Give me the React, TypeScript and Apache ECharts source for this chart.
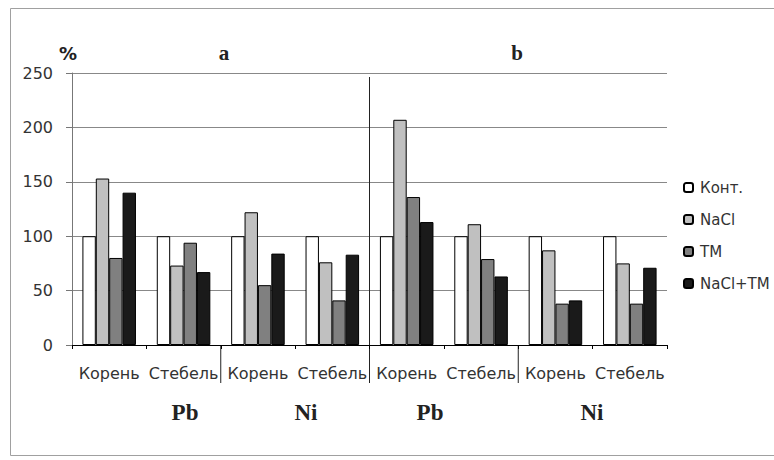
import React, { useEffect, useRef } from "react";
import * as echarts from "echarts";

const categories = ["Корень", "Стебель", "Корень", "Стебель", "Корень", "Стебель", "Корень", "Стебель"];
const seriesNames = ["Конт.", "NaCl", "ТМ", "NaCl+TM"];
const kont = [100, 100, 100, 100, 100, 100, 100, 100];
const nacl = [153, 73, 122, 76, 207, 111, 87, 75];
const tm = [80, 94, 55, 41, 136, 79, 38, 38];
const naclTm = [140, 67, 84, 83, 113, 63, 41, 71];
const yMin = 0;
const yMax = 250;
const yStep = 50;
const panelTitles = ["a", "b"];
const metalLabels = ["Pb", "Ni", "Pb", "Ni"];

const colors = ["#ffffff", "#c0c0c0", "#808080", "#1a1a1a"];
const FONT = "DejaVu Sans";
const SERIF = "Liberation Serif";
const TEXT = "#333333";

export default function App() {
  const ref = useRef<HTMLDivElement>(null);
  useEffect(() => {
    if (!ref.current) return;
    const chart = echarts.init(ref.current, null, { renderer: "svg" });
    const values = [kont, nacl, tm, naclTm];
    chart.setOption({
      animation: false,
      backgroundColor: "#ffffff",
      grid: { left: 72, right: 107, top: 73, bottom: 115, containLabel: false },
      legend: {
        orient: "vertical",
        left: 678,
        top: 175,
        itemWidth: 9,
        itemHeight: 9,
        itemGap: 17,
        data: seriesNames,
        textStyle: { fontFamily: FONT, fontSize: 15, color: TEXT, padding: [0, 0, 0, 2] },
      },
      xAxis: {
        type: "category",
        data: categories,
        axisLine: { lineStyle: { color: "#000", width: 1 } },
        axisTick: { show: true, length: 4, lineStyle: { color: "#000" } },
        axisLabel: { interval: 0, margin: 20, fontFamily: FONT, fontSize: 16, color: TEXT },
      },
      yAxis: {
        type: "value",
        min: yMin,
        max: yMax,
        interval: yStep,
        axisLine: { show: true, lineStyle: { color: "#777", width: 1 } },
        axisTick: { show: true, length: 6, lineStyle: { color: "#777" } },
        axisLabel: { margin: 19, fontFamily: FONT, fontSize: 16, color: TEXT },
        splitLine: { lineStyle: { color: "#888", width: 1 } },
      },
      series: seriesNames.map((name, i) => ({
        name,
        type: "bar",
        data: values[i],
        barGap: "0%",
        barCategoryGap: "28%",
        itemStyle: { color: colors[i], borderColor: "#000", borderWidth: 1 },
      })),
    });

    const cx = (i: number) => chart.convertToPixel({ xAxisIndex: 0 }, i) as number;
    const cy = (v: number) => chart.convertToPixel({ yAxisIndex: 0 }, v) as number;
    const band = cx(1) - cx(0);
    const boundary = (i: number) => cx(i) - band / 2;
    const y0 = cy(0);
    const yTop = cy(yMax);
    const dividerBottom = y0 + 38;
    const metalX = [185, 306, 430, 592];

    chart.setOption({
      graphic: [
        {
          type: "rect",
          shape: { x: 10.5, y: 8.5, width: 800, height: 447 },
          style: { fill: "none", stroke: "#a0a0a0", lineWidth: 1 },
          silent: true,
        },
        ...[2, 6].map((i) => ({
          type: "line",
          shape: { x1: boundary(i), y1: y0, x2: boundary(i), y2: dividerBottom },
          style: { stroke: "#222", lineWidth: 1 },
        })),
        {
          type: "line",
          shape: { x1: boundary(4), y1: yTop + 4, x2: boundary(4), y2: dividerBottom },
          style: { stroke: "#222", lineWidth: 1 },
        },
        {
          type: "text",
          x: 68,
          y: 53,
          style: { text: "%", fontFamily: FONT, fontSize: 18, fontWeight: "bold", fill: "#222", align: "center", verticalAlign: "middle" },
        },
        ...panelTitles.map((t, k) => ({
          type: "text",
          x: k === 0 ? 224 : 517,
          y: 53,
          style: { text: t, fontFamily: SERIF, fontSize: 21, fontWeight: "bold", fill: "#222", align: "center", verticalAlign: "middle" },
        })),
        ...metalLabels.map((t, k) => ({
          type: "text",
          x: metalX[k],
          y: 412,
          style: { text: t, fontFamily: SERIF, fontSize: 23, fontWeight: "bold", fill: "#222", align: "center", verticalAlign: "middle" },
        })),
      ],
    });
    return () => chart.dispose();
  }, []);
  return <div ref={ref} style={{ position: "fixed", left: 0, top: 0, width: 774, height: 460 }} />;
}
